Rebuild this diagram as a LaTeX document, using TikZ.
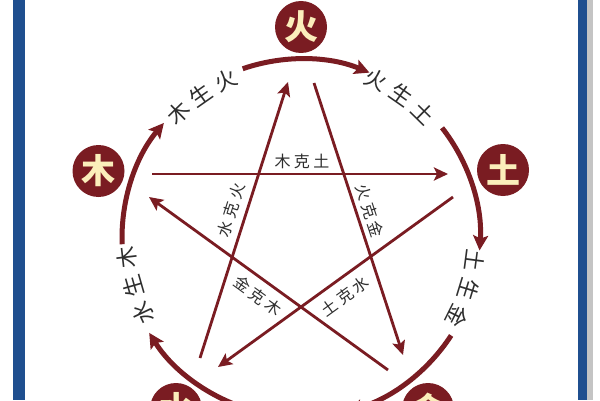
\documentclass[tikz,border=0pt]{standalone}
\usepackage{fontspec}
\newfontfamily\cjk{Noto Sans CJK SC}
\usetikzlibrary{arrows.meta}
\definecolor{wxred}{HTML}{7A1C22}
\definecolor{wxcream}{HTML}{FBEEBB}
\definecolor{wxblue}{HTML}{1F4F8F}
\definecolor{wxgray}{HTML}{C4C4C4}
\definecolor{wxtext}{HTML}{2E2E2E}
\newcommand{\wxsp}{\kern3.5pt}
\begin{document}
\begin{tikzpicture}[x=1pt,y=1pt,
  element/.style={circle, fill=wxred, minimum size=52pt, inner sep=0pt, text=wxcream, font=\cjk\bfseries\fontsize{34}{34}\selectfont},
  cycleline/.style={draw=wxred, line width=5pt, -{Stealth[length=15pt,width=15pt,inset=3pt]}},
  ctrlline/.style={draw=wxred, line width=2.8pt, -{Stealth[length=14pt,width=13pt,inset=3pt]}},
  cyclechar/.style={text=wxtext, font=\cjk\fontsize{22}{22}\selectfont, inner sep=0pt},
  ctrllabel/.style={text=wxtext, font=\cjk\fontsize{16}{16}\selectfont, inner sep=0pt},
]
\useasboundingbox (0,0) rectangle (600,400);
\fill[white] (0,0) rectangle (600,400);
\fill[wxblue] (12.5,0) rectangle (25,400);
\fill[wxblue] (578,0) rectangle (587,400);
\fill[wxgray] (587,0) rectangle (593,400);
\coordinate (C) at (301,162);
% elements
\node[element] (huo) at (301,373) {火};
\node[element] (mu) at (98.5,229) {木};
\node[element] (tu) at (503,230) {土};
\node[element] (shui) at (176,-9) {水};
\node[element] (jin) at (428,-9) {金};
% generating cycle arcs
\draw[cycleline] ([shift={(182:179)}]C) arc[start angle=182, end angle=140, radius=179];
\draw[cycleline] ([shift={(109:179)}]C) arc[start angle=109, end angle=67.5, radius=179];
\draw[cycleline] ([shift={(38:179)}]C) arc[start angle=38, end angle=-4, radius=179];
\draw[cycleline] ([shift={(-33:179)}]C) arc[start angle=-33, end angle=-75, radius=179];
\draw[cycleline] ([shift={(-106:179)}]C) arc[start angle=-106, end angle=-148, radius=179];
% generating cycle labels
\foreach \m/\a/\b/\c [count=\i] in {125/木/生/火, 55/火/生/土, -17/土/生/金, -164/水/生/木} {
  \node[cyclechar, rotate=\m+9.5-90] (cyc\i-1) at ([shift={(\m+9.5:175)}]C) {\a};
  \node[cyclechar, rotate=\m-90] (cyc\i-2) at ([shift={(\m:175)}]C) {\b};
  \node[cyclechar, rotate=\m-9.5-90] (cyc\i-3) at ([shift={(\m-9.5:175)}]C) {\c};
}
% controlling star
\coordinate (shuiS) at (200,42);  \coordinate (huoE) at (288,318);
\coordinate (huoS) at (314,317);  \coordinate (jinE) at (403,45);
\coordinate (muS) at (152,226);   \coordinate (tuE) at (448,226);
\coordinate (tuS) at (453,203);   \coordinate (shuiE) at (218,33);
\coordinate (jinS) at (388,30);   \coordinate (muE) at (149,203);
\draw[ctrlline] (shuiS) -- (huoE);
\draw[ctrlline] (huoS) -- (jinE);
\draw[ctrlline] (muS) -- (tuE);
\draw[ctrlline] (tuS) -- (shuiE);
\draw[ctrlline] (jinS) -- (muE);
\node[ctrllabel] (lmt) at (302,239) {木\wxsp 克\wxsp 土};
\node[ctrllabel, rotate=72.3] (lsh) at (231.5,190) {水\wxsp 克\wxsp 火};
\node[ctrllabel, rotate=-71.9] (lhj) at (370,189) {火\wxsp 克\wxsp 金};
\node[ctrllabel, rotate=-35.9] (ljm) at (258,104) {金\wxsp 克\wxsp 木};
\node[ctrllabel, rotate=35.9] (lts) at (345,104) {土\wxsp 克\wxsp 水};
\end{tikzpicture}
\end{document}
